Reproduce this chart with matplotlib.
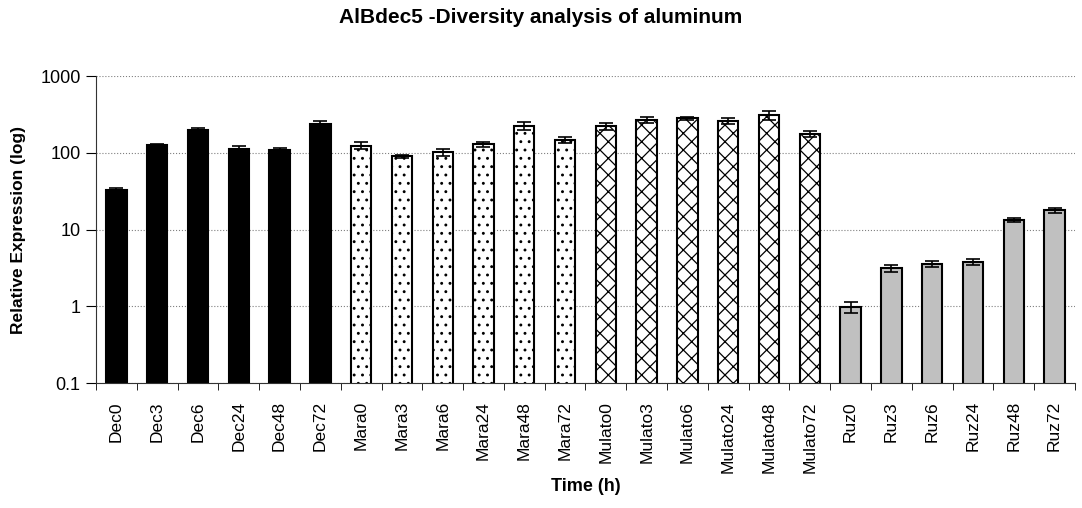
import numpy as np
import matplotlib
matplotlib.use('Agg')
import matplotlib.pyplot as plt
from matplotlib.ticker import FixedLocator, NullFormatter

plt.rcParams['font.family'] = ['Liberation Sans', 'DejaVu Sans']
plt.rcParams['hatch.linewidth'] = 0.9

groups = ['Dec', 'Mara', 'Mulato', 'Ruz']
hours = ['0', '3', '6', '24', '48', '72']
labels = [g + h for g in groups for h in hours]

dec_vals = [33, 126, 198, 113, 109, 237]
mara_vals = [124, 90, 102, 130, 226, 149]
mulato_vals = [223, 271, 282, 260, 310, 178]
ruz_vals = [0.98, 3.13, 3.6, 3.78, 13.5, 17.8]

dec_err = [1.5, 4, 15, 9, 8, 20]
mara_err = [13, 4, 10, 9, 25, 13]
mulato_err = [22, 24, 10, 22, 45, 15]
ruz_err = [0.15, 0.3, 0.3, 0.3, 0.8, 1.2]

styles = [
    dict(color='black', hatch=None),
    dict(color='white', hatch='..'),
    dict(color='white', hatch='xx'),
    dict(color='#c0c0c0', hatch=None),
]

fig = plt.figure(figsize=(10.82, 5.08), dpi=100)
ax = fig.add_axes([0.0887, 0.246, 0.9048, 0.604])

values = [dec_vals, mara_vals, mulato_vals, ruz_vals]
errors = [dec_err, mara_err, mulato_err, ruz_err]
for gi, (vals, errs, st) in enumerate(zip(values, errors, styles)):
    x = np.arange(6) + gi * 6
    ax.bar(x, vals, width=0.5, color=st['color'], edgecolor='black',
           hatch=st['hatch'], linewidth=1.5, zorder=2)
    ax.errorbar(x, vals, yerr=errs, fmt='none', ecolor='black',
                elinewidth=1.2, capsize=5, capthick=1.2, zorder=3)

ax.set_yscale('log')
ax.set_ylim(0.1, 1000)
ax.set_xlim(-0.5, 23.5)
ax.set_yticks([0.1, 1, 10, 100, 1000])
ax.set_yticklabels(['0.1', '1', '10', '100', '1000'], fontsize=13)
ax.yaxis.set_minor_locator(FixedLocator([]))
ax.grid(axis='y', which='major', linestyle=':', color='gray', linewidth=0.8, zorder=0)

ax.set_xticks(np.arange(24))
ax.set_xticklabels(labels, rotation=90, fontsize=12.5)
ax.xaxis.set_minor_locator(FixedLocator(np.arange(-0.5, 24, 1)))
ax.xaxis.set_minor_formatter(NullFormatter())
ax.tick_params(axis='x', which='major', length=0, pad=13)
ax.tick_params(axis='x', which='minor', length=5, color='black')
ax.tick_params(axis='y', which='major', length=7, pad=4)

for s in ['top', 'right']:
    ax.spines[s].set_visible(False)
ax.spines['left'].set_color('#333333')
ax.spines['bottom'].set_color('#333333')

ax.set_ylabel('Relative Expression (log)', fontsize=12.5, fontweight='bold', labelpad=10)
ax.set_xlabel('Time (h)', fontsize=13, fontweight='bold', labelpad=4)
fig.text(0.5, 0.966, 'AlBdec5 -Diversity analysis of aluminum', fontsize=15,
         fontweight='bold', ha='center', va='center')

fig.savefig('out.png', dpi=100)
